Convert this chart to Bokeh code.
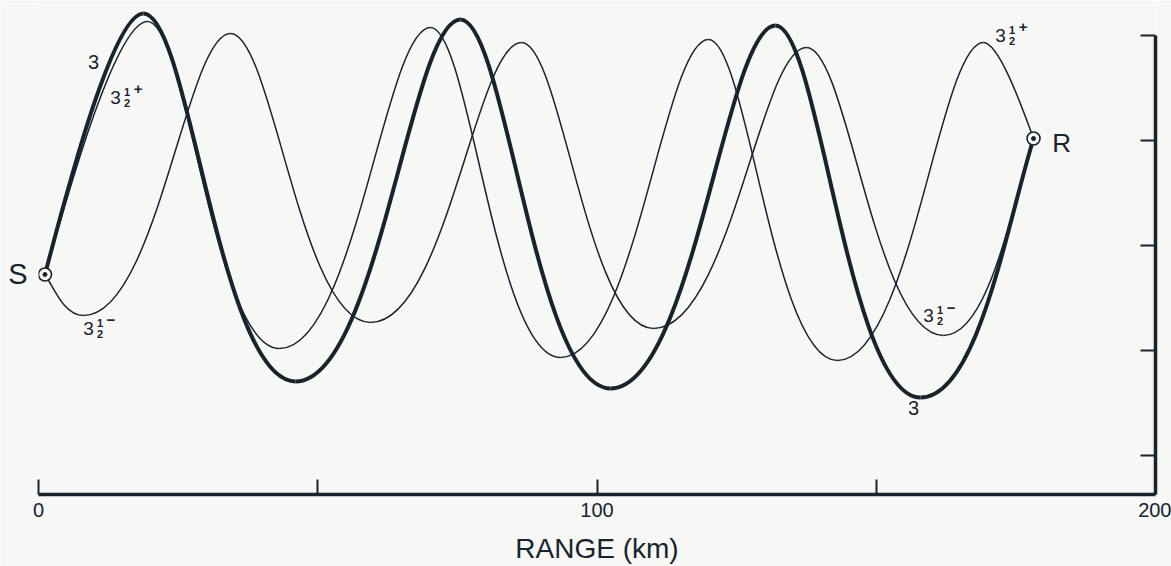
from bokeh.plotting import figure
from bokeh.models import Range1d, FixedTicker, Label, LinearAxis
from bokeh.core.properties import value
from bokeh.embed import file_html
from bokeh.resources import INLINE

# ---- data (range in km, vertical in tick units, 0 = top tick) ----
src_x, src_d = 1.16, 2.276
rcv_x, rcv_d = 178.16, 0.981

# ray "3" (thick) turning points
ray3_x = [18.80, 46.02, 75.56, 102.42, 131.96, 157.92]
ray3_d = [-0.210, 3.295, -0.152, 3.362, -0.095, 3.448]
# ray "3 1/2 +" turning points
rayp_x = [19.52, 43.15, 70.19, 93.46, 119.96, 143.06, 169.20]
rayp_d = [-0.133, 2.981, -0.076, 3.067, 0.038, 3.095, 0.067]
# ray "3 1/2 -" turning points
raym_x = [8.06, 34.38, 59.45, 86.48, 110.12, 137.51, 162.04]
raym_d = [2.667, -0.019, 2.733, 0.067, 2.790, 0.114, 2.857]

x_ticks = [0, 50, 100, 150, 200]
x_tick_labels = {0: "0", 50: "", 100: "100", 150: "", 200: "200"}
y_ticks = [0, 1, 2, 3, 4]

lab3_x = [9.85, 156.7]
lab3_d = [0.257, 3.552]
labf_x = [13.79, 172.25, 8.95, 159.36]
labf_d = [0.590, 0.000, 2.790, 2.667]
labf_sign = ["+", "+", "\u2212", "\u2212"]

INK = "#17242e"
BG = "#f7f7f5"
FONT = value("Liberation Sans")

p = figure(width=1171, height=566,
           x_range=Range1d(0, 200), y_range=Range1d(4.3714, -0.3333),
           y_axis_location="right", output_backend="svg", toolbar_location=None,
           min_border_left=38, min_border_right=16, min_border_top=0, min_border_bottom=72,
           background_fill_color=BG, border_fill_color=BG, outline_line_color=None)
p.grid.visible = False

xa = p.xaxis[0]
xa.ticker = FixedTicker(ticks=x_ticks)
xa.major_label_overrides = x_tick_labels
xa.major_tick_in = 15
xa.major_tick_out = 0
xa.minor_tick_line_color = None
xa.axis_line_width = 3.5
xa.axis_line_color = INK
xa.major_tick_line_width = 2
xa.major_tick_line_color = INK
xa.bounds = (0, 200)
xa.major_label_text_font = "Liberation Sans"
xa.major_label_text_font_size = "20px"
xa.major_label_text_color = INK
xa.major_label_standoff = 8
xa.axis_label = "RANGE (km)"
xa.axis_label_text_font = "Liberation Sans"
xa.axis_label_text_font_size = "28px"
xa.axis_label_text_font_style = "normal"
xa.axis_label_text_color = INK
xa.axis_label_standoff = 13

ya = p.yaxis[0]
ya.ticker = FixedTicker(ticks=y_ticks)
ya.major_label_overrides = {t: "" for t in y_ticks}
ya.major_label_text_font_size = "0px"
ya.major_tick_in = 15
ya.major_tick_out = 0
ya.minor_tick_line_color = None
ya.axis_line_width = 3.5
ya.axis_line_color = INK
ya.major_tick_line_width = 2
ya.major_tick_line_color = INK
ya.bounds = (0, 4.3714)

# left side: no axis line, only the source label "S" beside the source
la = LinearAxis(ticker=FixedTicker(ticks=[src_d]), major_label_overrides={src_d: "S"},
                axis_line_color=None, major_tick_line_color=None, minor_tick_line_color=None,
                major_label_text_font="Liberation Sans", major_label_text_font_size="29px",
                major_label_text_color=INK, major_label_standoff=5)
p.add_layout(la, "left")


def ray_segments(tx, td):
    xs = [src_x] + list(tx) + [rcv_x]
    ds = [src_d] + list(td) + [rcv_d]
    n = len(xs)
    seg = dict(x0=[], y0=[], x1=[], y1=[], cx0=[], cy0=[], cx1=[], cy1=[])

    def k_of(i):
        upper = ds[i] < ds[i - 1]
        return 0.3 if upper else 0.5

    for i in range(n - 1):
        xa_, da_, xb_, db_ = xs[i], ds[i], xs[i + 1], ds[i + 1]
        dx, dd = xb_ - xa_, db_ - da_
        if i == 0:
            c0 = (xa_ + 0.25 * dx, da_ + 0.36 * dd)
        else:
            c0 = (xa_ + k_of(i) * dx, da_)
        if i + 1 == n - 1:
            c1 = (xb_ - 0.25 * dx, db_ - 0.36 * dd)
        else:
            c1 = (xb_ - k_of(i + 1) * dx, db_)
        seg["x0"].append(xa_); seg["y0"].append(da_)
        seg["x1"].append(xb_); seg["y1"].append(db_)
        seg["cx0"].append(c0[0]); seg["cy0"].append(c0[1])
        seg["cx1"].append(c1[0]); seg["cy1"].append(c1[1])
    return seg


for tx, td, lw in [(rayp_x, rayp_d, 1.5), (raym_x, raym_d, 1.5), (ray3_x, ray3_d, 4.0)]:
    s = ray_segments(tx, td)
    p.bezier(x0=s["x0"], y0=s["y0"], x1=s["x1"], y1=s["y1"],
             cx0=s["cx0"], cy0=s["cy0"], cx1=s["cx1"], cy1=s["cy1"],
             line_color=INK, line_width=lw)

# source / receiver symbols
p.scatter([src_x, rcv_x], [src_d, rcv_d], marker="circle", size=13,
          fill_color=BG, line_color=INK, line_width=1.6)
p.scatter([src_x, rcv_x], [src_d, rcv_d], marker="circle", size=4,
          fill_color=INK, line_color=INK)

# ray labels
p.text(x=lab3_x, y=lab3_d, text=["3", "3"], text_font=FONT, text_font_size="20px",
       text_align="center", text_baseline="middle", text_color=INK)
p.text(x=labf_x, y=labf_d, text=["3"] * 4, text_font=FONT, text_font_size="19px",
       text_align="center", text_baseline="middle", text_color=INK)
p.text(x=labf_x, y=labf_d, text=["1"] * 4, text_font=FONT, text_font_size="11px",
       x_offset=11.5, y_offset=-5.5, text_align="center", text_baseline="middle",
       text_color=INK, text_font_style="bold")
p.text(x=labf_x, y=labf_d, text=["2"] * 4, text_font=FONT, text_font_size="11px",
       x_offset=11.5, y_offset=5.5, text_align="center", text_baseline="middle",
       text_color=INK, text_font_style="bold")
p.text(x=labf_x, y=labf_d, text=labf_sign, text_font=FONT, text_font_size="15px",
       x_offset=22.5, y_offset=-8, text_align="center", text_baseline="middle",
       text_color=INK, text_font_style="bold")

p.add_layout(Label(x=183.2, y=1.02, text="R", text_font="Liberation Sans",
                   text_font_size="26px", text_align="center", text_baseline="middle",
                   text_color=INK))

open("out.html", "w").write(file_html(p, INLINE))
